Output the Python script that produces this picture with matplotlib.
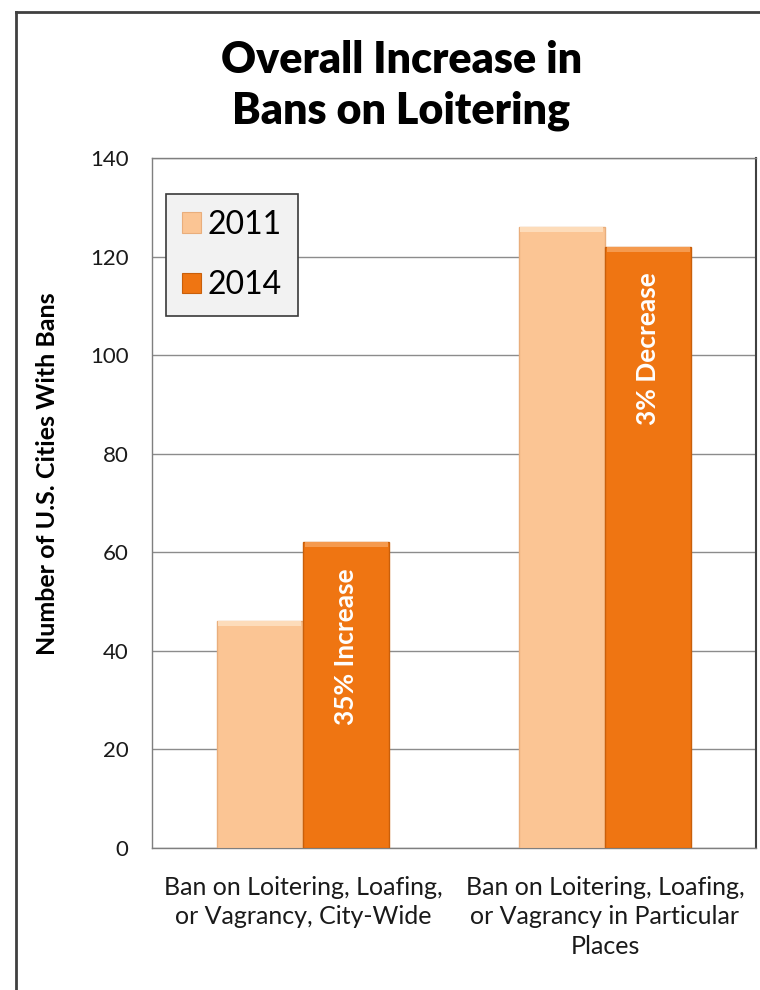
import matplotlib

matplotlib.use("Agg")
import matplotlib.pyplot as plt
import numpy as np
from matplotlib.lines import Line2D
from matplotlib.patches import Patch

categories = [
    "Ban on Loitering, Loafing,\nor Vagrancy, City-Wide",
    "Ban on Loitering, Loafing,\nor Vagrancy in Particular\nPlaces",
]
years = ["2011", "2014"]
bans_2011 = [46, 126]
bans_2014 = [62, 122]
change_labels = ["35% Increase", "3% Decrease"]
y_ticks = [0, 20, 40, 60, 80, 100, 120, 140]

LIGHT = "#FBC594"
LIGHT_CAP = "#FDDCBA"
LIGHT_EDGE = "#E9AE7C"
DARK = "#EF7512"
DARK_CAP = "#F59A4E"
DARK_EDGE = "#C95F0A"
GRID = "#8C8C8C"

plt.rcParams.update({"font.family": ["Lato", "DejaVu Sans"]})

fig = plt.figure(figsize=(7.6, 9.9), dpi=100)
ax = fig.add_axes([0.2, 0.1434, 0.7947, 0.697])

x = np.arange(len(categories))
width = 0.286
series = [
    (bans_2011, -width / 2, LIGHT, LIGHT_CAP, LIGHT_EDGE),
    (bans_2014, width / 2, DARK, DARK_CAP, DARK_EDGE),
]
for values, offset, face, cap, edge in series:
    ax.bar(x + offset, values, width=width, color=face, edgecolor=edge, lw=1.0, zorder=3)
    # thin highlight along the top of each bar for a bevelled look
    ax.bar(x + offset, [1.0] * len(values), bottom=np.array(values) - 1.0,
           width=width * 0.96, color=cap, lw=0, zorder=4)

for xi, v, text in zip(x, bans_2014, change_labels):
    ax.annotate(text, xy=(xi + width / 2, v), xytext=(0, -26), textcoords="offset pixels",
                rotation=90, ha="center", va="top", color="white",
                fontsize=19, fontweight="bold", zorder=5)

ax.set_xlim(-0.5, 1.5)
ax.set_ylim(0, 140)
ax.set_yticks(y_ticks)
ax.set_xticks(x)
ax.set_xticklabels(categories, fontsize=18, linespacing=1.34)
ax.tick_params(axis="both", length=0, colors="#1A1A1A")
ax.tick_params(axis="y", pad=17, labelsize=16)
ax.tick_params(axis="x", pad=20)
ax.grid(axis="y", color=GRID, lw=1.0, zorder=0)
for side in ["left", "bottom", "top", "right"]:
    ax.spines[side].set_color("#7F7F7F")
    ax.spines[side].set_linewidth(1.0)
ax.spines["right"].set_color("#404040")
ax.spines["right"].set_linewidth(1.5)

fig.text(0.063, 0.522, "Number of U.S. Cities With Bans", rotation=90,
         ha="center", va="center", fontsize=18, fontweight="bold")

fig.text(0.528, 0.939, "Overall Increase in", ha="center", va="center",
         fontsize=31, fontweight="heavy")
fig.text(0.528, 0.888, "Bans on Loitering", ha="center", va="center",
         fontsize=31, fontweight="heavy")

handles = [Patch(facecolor=c, edgecolor=e, lw=0.8) for c, e in [(LIGHT, LIGHT_EDGE), (DARK, DARK_EDGE)]]
leg = ax.legend(handles, years, loc="upper left", bbox_to_anchor=(0.023, 0.948),
                fontsize=23, frameon=True, fancybox=False, facecolor="#F2F2F2",
                edgecolor="#3A3A3A", framealpha=1.0, handlelength=0.6, handleheight=0.6,
                handletextpad=0.2, labelspacing=0.95, borderpad=0.5, borderaxespad=0)
leg.get_frame().set_linewidth(1.2)
leg.set_zorder(6)

# chart frame, running off the right and bottom of the canvas
fig.add_artist(Line2D([0.021, 0.021], [0.0, 0.988], color="#404040", lw=2.0))
fig.add_artist(Line2D([0.021, 1.0], [0.988, 0.988], color="#404040", lw=2.0))

fig.savefig("out.png", dpi=100)
